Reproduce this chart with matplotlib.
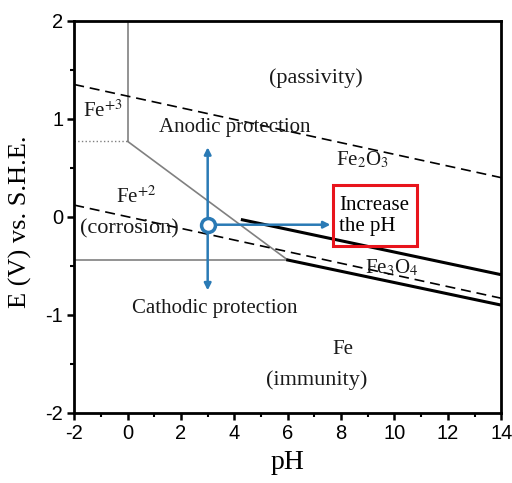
import matplotlib
matplotlib.use("Agg")
import matplotlib.pyplot as plt
from matplotlib.patches import Rectangle
from matplotlib.ticker import MultipleLocator

plt.rcParams["axes.unicode_minus"] = False
plt.rcParams["mathtext.fontset"] = "stix"

# boundary lines of the Pourbaix diagram (pH, E)
fe3_fe2_x = [-2, 0]
fe3_fe2_y = [0.77, 0.77]
fe3_oxide_x = [0, 0]
fe3_oxide_y = [2, 0.77]
fe2_oxide_x = [0, 6.0]
fe2_oxide_y = [0.77, -0.44]
fe_fe2_x = [-2, 6.0]
fe_fe2_y = [-0.44, -0.44]
hematite_magnetite_x = [4.3, 14]
hematite_magnetite_y = [-0.03, -0.59]
fe_magnetite_x = [6.0, 14]
fe_magnetite_y = [-0.44, -0.90]
o2_line_x = [-2, 14]
o2_line_y = [1.35, 0.40]
h2_line_x = [-2, 14]
h2_line_y = [0.12, -0.83]

# protection arrows
point = (3.0, -0.08)
anodic_top = 0.71
cathodic_bottom = -0.75
ph_arrow_end = 7.6

serif = ["Liberation Serif", "DejaVu Serif"]
blue = "#2a7ab5"

fig = plt.figure(figsize=(5.12, 4.83), dpi=100)
ax = fig.add_axes([0.145, 0.145, 0.834, 0.812])

ax.plot(fe3_fe2_x, fe3_fe2_y, color="gray", lw=1, ls=":")
ax.plot(fe3_oxide_x, fe3_oxide_y, color="gray", lw=1.2)
ax.plot(fe2_oxide_x, fe2_oxide_y, color="gray", lw=1.2)
ax.plot(fe_fe2_x, fe_fe2_y, color="gray", lw=1.2)
ax.plot(hematite_magnetite_x, hematite_magnetite_y, color="black", lw=2.2)
ax.plot(fe_magnetite_x, fe_magnetite_y, color="black", lw=2.2)
ax.plot(o2_line_x, o2_line_y, color="black", lw=1.2, ls=(0, (6, 3.5)))
ax.plot(h2_line_x, h2_line_y, color="black", lw=1.2, ls=(0, (6, 3.5)))

arrow_kw = dict(arrowstyle="-|>", color=blue, lw=1.8, mutation_scale=10,
                shrinkA=0, shrinkB=0)
ax.annotate("", xy=(point[0], anodic_top), xytext=point, arrowprops=arrow_kw)
ax.annotate("", xy=(point[0], cathodic_bottom), xytext=point, arrowprops=arrow_kw)
ax.annotate("", xy=(ph_arrow_end, point[1]), xytext=point, arrowprops=arrow_kw)
ax.plot([point[0]], [point[1]], "o", ms=10, mfc="white", mec=blue, mew=2.5, zorder=5)

ax.add_patch(Rectangle((7.7, -0.30), 3.15, 0.62, fill=False, ec="#e8141c", lw=2.2, zorder=6))
ax.text(7.93, 0.01, "Increase\nthe pH", fontsize=15, family=serif,
        ha="left", va="center", linespacing=1.15, zorder=7)

tk = dict(family=serif, fontsize=15, ha="center", va="center", color="#1a1a1a")
ax.text(7.06, 1.42, "(passivity)", **dict(tk, fontsize=16))
ax.text(-0.95, 1.08, r"Fe$^{+3}$", **tk)
ax.text(4.03, 0.91, "Anodic protection", **tk)
ax.text(8.8, 0.58, r"Fe$_2$O$_3$", **tk)
ax.text(0.3, 0.2, r"Fe$^{+2}$", **tk)
ax.text(0.05, -0.12, "(corrosion)", **dict(tk, fontsize=16))
ax.text(9.9, -0.52, r"Fe$_3$O$_4$", **tk)
ax.text(3.25, -0.93, "Cathodic protection", **tk)
ax.text(8.07, -1.35, "Fe", **tk)
ax.text(7.1, -1.67, "(immunity)", **dict(tk, fontsize=16))

ax.set_xlim(-2, 14)
ax.set_ylim(-2, 2)
ax.xaxis.set_major_locator(MultipleLocator(2))
ax.xaxis.set_minor_locator(MultipleLocator(1))
ax.yaxis.set_major_locator(MultipleLocator(1))
ax.yaxis.set_minor_locator(MultipleLocator(0.5))
ax.tick_params(which="major", direction="out", length=5, width=1.8, labelsize=14.5, pad=3)
ax.tick_params(which="minor", direction="out", length=3, width=1.5)
for lab in ax.get_xticklabels() + ax.get_yticklabels():
    lab.set_family(["Liberation Sans", "DejaVu Sans"])
for s in ax.spines.values():
    s.set_linewidth(2)

ax.set_xlabel("pH", family=serif, fontsize=20, labelpad=5)
ax.set_ylabel("E (V) vs. S.H.E.", family=serif, fontsize=19)
ax.yaxis.set_label_coords(-0.098, 0.487)

fig.savefig("out.png", dpi=100)
